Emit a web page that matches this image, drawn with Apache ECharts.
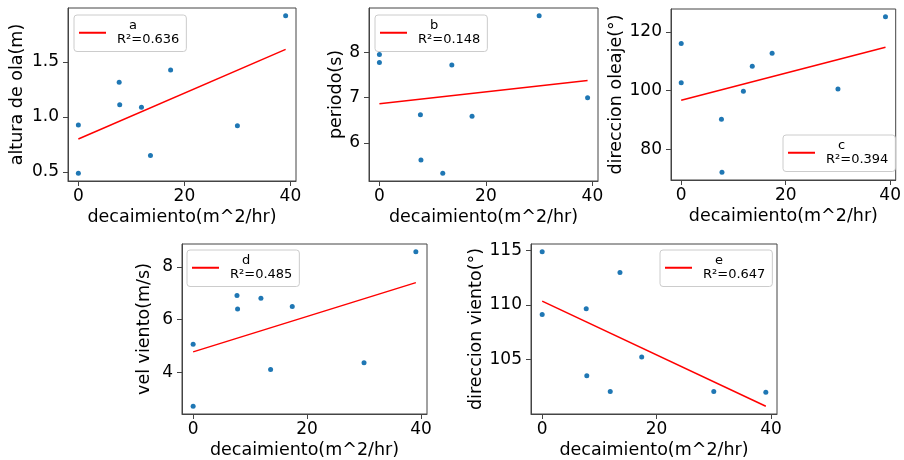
<!DOCTYPE html>
<html>
<head>
<meta charset="utf-8">
<script src="https://cdn.jsdelivr.net/npm/echarts@6/dist/echarts.min.js"></script>
<style>html,body{margin:0;padding:0;background:#fff;}#c{width:904px;height:460px;}</style>
</head>
<body>
<div id="c"></div>
<script>
// decay values (x) shared by all panels
const xVals = [0, 0, 7.7, 7.8, 11.9, 13.6, 17.4, 30.0, 39.1];
const alturaOla = [0.49, 0.927, 1.316, 1.112, 1.088, 0.65, 1.427, 0.921, 1.919];
const periodo = [7.955, 7.78, 6.62, 5.62, 5.33, 7.72, 6.59, 8.81, 7.0];
const dirOleaje = [116.1, 102.7, 90.2, 72.1, 99.8, 108.3, 112.7, 100.5, 125.2];
const velViento = [5.07, 2.72, 6.91, 6.40, 6.81, 4.11, 6.50, 4.37, 8.57];
const dirViento = [114.88, 109.13, 109.67, 103.53, 102.09, 112.99, 105.24, 102.09, 102.03];

// fitted line endpoints at x = 0 and x = 39.1
const fitX = [0, 39.1];
const fitA = [0.80, 1.615];
const fitB = [6.865, 7.38];
const fitC = [96.7, 114.8];
const fitD = [4.78, 7.40];
const fitE = [110.36, 100.74];

const panelNames = ['a', 'b', 'c', 'd', 'e'];
const r2Values = ['0.636', '0.148', '0.394', '0.485', '0.647'];
const yLabels = ['altura de ola(m)', 'periodo(s)', 'direccion oleaje(°)', 'vel viento(m/s)', 'direccion viento(°)'];
const xLabel = 'decaimiento(m^2/hr)';
const xTicks = [0, 20, 40];
const yTicks = [[0.5, 1.0, 1.5], [6, 7, 8], [80, 100, 120], [4, 6, 8], [105, 110, 115]];
const yDecimals = [1, 0, 0, 0, 0];

const ySeries = [alturaOla, periodo, dirOleaje, velViento, dirViento];
const fits = [fitA, fitB, fitC, fitD, fitE];

const grids = [
  {left: 68, top: 8, width: 228, height: 173},
  {left: 369, top: 8, width: 229, height: 173},
  {left: 671, top: 9, width: 229, height: 171},
  {left: 182, top: 244, width: 245, height: 173},
  {left: 531, top: 244, width: 246, height: 172}
];
const yNameGaps = [42, 21, 45, 29, 45];
const legendPos = [
  {left: 74, top: 15},
  {left: 375, top: 15},
  {left: 783, top: 135},
  {left: 187, top: 250},
  {left: 660, top: 250}
];

const FONT = 'DejaVu Sans';
const AX = '#444';
const margin = v => 0.05 * (v.max - v.min);

const option = {
  animation: false,
  backgroundColor: '#fff',
  grid: grids.map(g => Object.assign({show: true, borderColor: AX, borderWidth: 1, backgroundColor: 'transparent'}, g)),
  xAxis: grids.map((g, i) => ({
    type: 'value', gridIndex: i,
    min: v => v.min - margin(v), max: v => v.max + margin(v),
    name: xLabel, nameLocation: 'middle', nameGap: 27,
    nameTextStyle: {fontFamily: FONT, fontSize: 17.5, color: '#000'},
    axisLine: {show: true, onZero: false, lineStyle: {color: AX, width: 1}},
    axisTick: {show: true, inside: false, length: 5, lineStyle: {color: AX}, customValues: xTicks},
    axisLabel: {fontFamily: FONT, fontSize: 17, color: '#000', margin: 7, customValues: xTicks},
    splitLine: {show: false}
  })),
  yAxis: grids.map((g, i) => ({
    type: 'value', gridIndex: i,
    min: v => v.min - margin(v), max: v => v.max + margin(v),
    name: yLabels[i], nameLocation: 'middle', nameRotate: 90, nameGap: yNameGaps[i],
    nameTextStyle: {fontFamily: FONT, fontSize: 17.5, color: '#000'},
    axisLine: {show: true, onZero: false, lineStyle: {color: AX, width: 1}},
    axisTick: {show: true, inside: false, length: 5, lineStyle: {color: AX}, customValues: yTicks[i]},
    axisLabel: {fontFamily: FONT, fontSize: 17, color: '#000', margin: 9, customValues: yTicks[i],
      formatter: val => Number(val).toFixed(yDecimals[i])},
    splitLine: {show: false}
  })),
  legend: panelNames.map((n, i) => Object.assign({
    data: [n],
    orient: 'vertical',
    padding: [4, 7, 5, 4],
    itemWidth: 27, itemHeight: 14,
    backgroundColor: 'rgba(255,255,255,0.8)',
    borderColor: '#cccccc', borderWidth: 1, borderRadius: 3,
    selectedMode: false,
    itemStyle: {opacity: 0},
    formatter: name => '{t|' + name + '}\n{r|R²=' + r2Values[panelNames.indexOf(name)] + '}',
    textStyle: {
      fontFamily: FONT, fontSize: 13, color: '#000',
      rich: {
        t: {fontFamily: FONT, fontSize: 13, lineHeight: 14.5, padding: [0, 0, 0, 18]},
        r: {fontFamily: FONT, fontSize: 13, lineHeight: 14.5, padding: [0, 0, 0, 6]}
      }
    }
  }, legendPos[i])),
  series: []
};

panelNames.forEach((n, i) => {
  option.series.push({
    type: 'scatter', name: 'pts' + n, xAxisIndex: i, yAxisIndex: i,
    symbolSize: 5, itemStyle: {color: '#1f77b4', opacity: 1},
    data: xVals.map((x, k) => [x, ySeries[i][k]])
  });
  option.series.push({
    type: 'line', name: n, xAxisIndex: i, yAxisIndex: i,
    symbol: 'none', lineStyle: {color: '#ff0000', width: 1.5}, itemStyle: {color: '#ff0000'},
    data: fitX.map((x, k) => [x, fits[i][k]])
  });
});

const chart = echarts.init(document.getElementById('c'), null, {renderer: 'canvas'});
chart.setOption(option);
</script>
</body>
</html>
